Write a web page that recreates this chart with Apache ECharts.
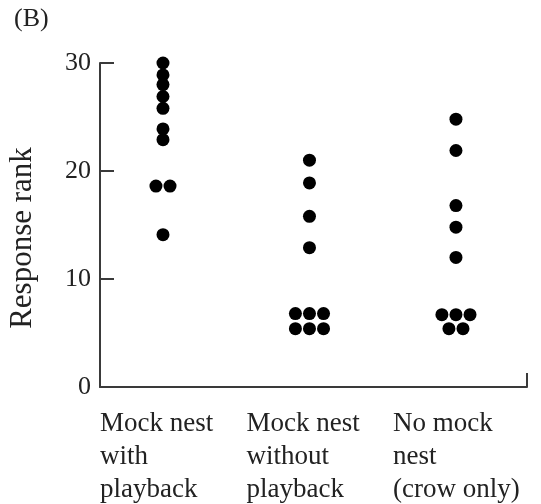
<!DOCTYPE html>
<html>
<head>
<meta charset="utf-8">
<script src="https://cdn.jsdelivr.net/npm/echarts@6/dist/echarts.min.js"></script>
<style>
  html, body { margin: 0; padding: 0; background: #fff; }
  #chart { width: 541px; height: 504px; }
</style>
</head>
<body>
<div id="chart"></div>
<script>
// groups shown along the bottom
const categories = [
  'Mock nest\nwith\nplayback',
  'Mock nest\nwithout\nplayback',
  'No mock\nnest\n(crow only)'
];

// response ranks, one list per group
const withPlayback = [30, 28.9, 28, 26.9, 25.8, 23.9, 22.9, 18.6, 18.6, 14.1];
const withoutPlayback = [21, 18.9, 15.8, 12.9, 6.8, 6.8, 6.8, 5.4, 5.4, 5.4];
const crowOnly = [24.8, 21.9, 16.8, 14.8, 12, 6.7, 6.7, 6.7, 5.4, 5.4];

const yTicks = [0, 10, 20, 30];

const groups = [withPlayback, withoutPlayback, crowOnly];

// tied values are spread side by side, like the printed dot plot
const spread = 0.096;
const points = [];
groups.forEach((vals, gi) => {
  const counts = {};
  vals.forEach(v => { counts[v] = (counts[v] || 0) + 1; });
  const seen = {};
  vals.forEach(v => {
    const n = counts[v];
    const k = seen[v] || 0;
    seen[v] = k + 1;
    points.push([gi + 1 + (k - (n - 1) / 2) * spread, v]);
  });
});

const xMin = 0.57;
const xMax = 3.485;
const labelShift = 0.43;

const font = '"Liberation Serif", "DejaVu Serif", serif';
const axisColor = '#3a3a3a';

const chart = echarts.init(document.getElementById('chart'));
chart.setOption({
  animation: false,
  backgroundColor: '#fff',
  title: {
    text: '(B)',
    left: 9,
    top: 1,
    textStyle: { fontFamily: font, fontSize: 26, fontWeight: 'normal', color: '#222' }
  },
  grid: { left: 100, right: 14, top: 63, bottom: 117, outerBoundsMode: 'none', containLabel: false },
  xAxis: {
    type: 'value',
    min: xMin,
    max: xMax,
    splitLine: { show: false },
    axisLine: { show: true, lineStyle: { color: axisColor, width: 2 } },
    axisTick: {
      show: true,
      inside: true,
      length: 14,
      customValues: [xMax],
      lineStyle: { color: axisColor, width: 2 }
    },
    axisLabel: {
      customValues: categories.map((c, i) => i + 1 - labelShift),
      formatter: v => categories[Math.round(v + labelShift) - 1] || '',
      align: 'left',
      verticalAlign: 'top',
      margin: 20,
      fontFamily: font,
      fontSize: 27,
      lineHeight: 33,
      color: '#222'
    }
  },
  yAxis: {
    type: 'value',
    min: 0,
    max: 30,
    interval: 10,
    name: 'Response rank',
    nameLocation: 'middle',
    nameRotate: 90,
    nameGap: 62,
    nameTextStyle: { fontFamily: font, fontSize: 31, color: '#222', padding: [0, 26, 0, 0] },
    splitLine: { show: false },
    axisLine: { show: true, lineStyle: { color: axisColor, width: 2 } },
    axisTick: {
      show: true,
      inside: true,
      length: 14,
      customValues: yTicks.slice(1),
      lineStyle: { color: axisColor, width: 2 }
    },
    axisLabel: {
      customValues: yTicks,
      margin: 9,
      fontFamily: font,
      fontSize: 26,
      color: '#222'
    }
  },
  series: [{
    type: 'scatter',
    data: points,
    symbol: 'circle',
    symbolSize: 13,
    itemStyle: { color: '#000', opacity: 1 }
  }]
});
</script>
</body>
</html>
